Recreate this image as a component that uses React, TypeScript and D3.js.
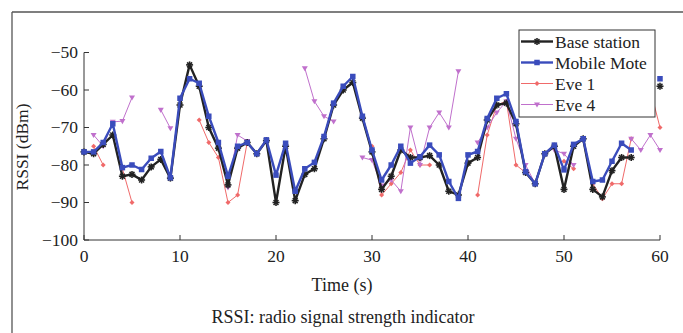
import React from "react";
import * as d3 from "d3";

const times: number[] = d3.range(0, 61);

const baseStation: (number | null)[] = [
  -76.5, -77, -74.5, -72, -83, -82.5, -84, -80.5, -78.5, -83.5,
  -64, -53.3, -59, -70, -75.5, -85.3, -75.5, -74, -77, -73.5,
  -90, -75, -89.5, -82.5, -81, -73, -64, -60, -58, -67.5,
  -76.5, -86.5, -83, -76, -78, -78, -77.5, -80, -87, -88,
  -79.5, -78, -68, -64, -63.5, -69, -82, -85, -77, -75,
  -86.5, -75, -73, -86.5, -88.5, -81.5, -78, -78, null, null,
  -59,
];

const mobileMote: (number | null)[] = [
  -76.5, -76.5, -74, -69, -80.7, -80, -81.2, -78.2, -76.4, -83.4,
  -62.2, -57, -58.2, -67, -74, -83, -75, -74, -77, -73.3,
  -82.7, -74.2, -87, -81, -79.3, -72.4, -63.5, -59, -56.4, -67,
  -76, -84, -80, -75, -79.5, -77.8, -74.7, -77.3, -84.4, -88.9,
  -77.3, -76.4, -67.6, -62.2, -61, -68.4, -81.8, -85, -77, -74.7,
  -81.3, -74.5, -73, -84.4, -84, -79, -74.2, -76, null, null,
  -57,
];

const eve1: (number | null)[] = [
  null, -75, -80, null, -81, -90, null, null, null, null,
  null, null, -68, -74, -78, -90, -88, -74, null, null,
  null, null, null, null, null, null, null, null, null, null,
  -75, -88, -85, -82, -76, -80, -80, null, null, null,
  null, -88, -72, -64, -63, -80, -82, null, null, null,
  -79, -81, null, -85, -89, -85, -85, -73, null, -60,
  -70,
];

const eve4: (number | null)[] = [
  null, -72, -75, -68.5, -68.3, -62, null, null, -65.3, -70.2,
  null, null, null, null, null, -86, -72, -73.6, null, null,
  null, null, null, -54.2, -63, -67, -68.4, null, null, -78,
  -78.7, -85.5, -84, -87, -70, -80, -70, -66, -70, -55,
  null, -74, -70, -66, -63, -73, -80, -85, null, -76,
  -77, -80, null, null, null, null, null, -73, -76, -72,
  -76,
];

const xTicks: number[] = [0, 10, 20, 30, 40, 50, 60];
const yTicks: number[] = [-50, -60, -70, -80, -90, -100];
const seriesNames: string[] = ["Base station", "Mobile Mote", "Eve 1", "Eve 4"];

const W = 683;
const H = 333;
const FONT = "'Liberation Serif', 'DejaVu Serif', serif";

type SeriesDef = {
  name: string;
  values: (number | null)[];
  color: string;
  width: number;
  marker: "star" | "square" | "diamond" | "tri";
  size: number;
};

function Marker({ kind, x, y, color, size }: { kind: string; x: number; y: number; color: string; size: number }) {
  if (kind === "square") {
    return <rect x={x - size / 2} y={y - size / 2} width={size} height={size} fill={color} />;
  }
  if (kind === "diamond") {
    const s = size / 2;
    return <path d={`M${x},${y - s}L${x + s},${y}L${x},${y + s}L${x - s},${y}Z`} fill={color} />;
  }
  if (kind === "tri") {
    const s = size / 2;
    return <path d={`M${x - s},${y - s * 0.7}L${x + s},${y - s * 0.7}L${x},${y + s}Z`} fill={color} />;
  }
  const s = size / 2;
  return (
    <g stroke={color} strokeWidth={1.6}>
      <line x1={x - s} y1={y} x2={x + s} y2={y} />
      <line x1={x} y1={y - s} x2={x} y2={y + s} />
      <line x1={x - s * 0.7} y1={y - s * 0.7} x2={x + s * 0.7} y2={y + s * 0.7} />
      <line x1={x - s * 0.7} y1={y + s * 0.7} x2={x + s * 0.7} y2={y - s * 0.7} />
    </g>
  );
}

export default function App() {
  const left = 84;
  const right = 660;
  const top = 52.5;
  const bottom = 240;

  const x = d3.scaleLinear().domain([0, 60]).range([left, right]);
  const y = d3.scaleLinear().domain([-100, -50]).range([bottom, top]);

  const series: SeriesDef[] = [
    { name: seriesNames[2], values: eve1, color: "#f06a6a", width: 1, marker: "diamond", size: 5 },
    { name: seriesNames[3], values: eve4, color: "#c070cc", width: 1, marker: "tri", size: 6 },
    { name: seriesNames[0], values: baseStation, color: "#222222", width: 2.4, marker: "star", size: 7 },
    { name: seriesNames[1], values: mobileMote, color: "#3a4cbc", width: 2.4, marker: "square", size: 5.5 },
  ];

  const lineGen = (vals: (number | null)[]) =>
    d3
      .line<number>()
      .defined((i) => vals[i] !== null)
      .x((i) => x(times[i]))
      .y((i) => y(vals[i] as number))(d3.range(times.length)) || "";

  const legendOrder = [series[2], series[3], series[0], series[1]];

  return (
    <svg width={W} height={H} style={{ position: "absolute", left: 0, top: 0, background: "#fff" }}>
      <line x1={12} y1={12} x2={W} y2={12} stroke="#555" strokeWidth={1.3} />
      <line x1={12} y1={12} x2={12} y2={H} stroke="#555" strokeWidth={1.3} />

      <line x1={left} y1={top} x2={left} y2={bottom} stroke="#333" strokeWidth={1} />
      <line x1={left} y1={bottom} x2={right} y2={bottom} stroke="#333" strokeWidth={1} />
      {yTicks.map((t) => (
        <g key={"y" + t}>
          <line x1={left} x2={left + 5} y1={y(t)} y2={y(t)} stroke="#333" />
          <text x={left - 6} y={y(t) + 5.5} textAnchor="end" fontFamily={FONT} fontSize={17.5} fill="#222">
            {t < 0 ? "\u2212" + Math.abs(t) : t}
          </text>
        </g>
      ))}
      {xTicks.map((t) => (
        <g key={"x" + t}>
          <line x1={x(t)} x2={x(t)} y1={bottom} y2={bottom - 5} stroke="#333" />
          <text x={x(t)} y={bottom + 22} textAnchor="middle" fontFamily={FONT} fontSize={17.5} fill="#222">
            {t}
          </text>
        </g>
      ))}
      <text x={342} y={291} textAnchor="middle" fontFamily={FONT} fontSize={18} fill="#222">
        Time (s)
      </text>
      <text
        transform={`translate(28,147) rotate(-90)`}
        textAnchor="middle"
        fontFamily={FONT}
        fontSize={17.5}
        fill="#222"
      >
        RSSI (dBm)
      </text>
      <text x={343} y={323} textAnchor="middle" fontFamily={FONT} fontSize={18} fill="#222">
        RSSI: radio signal strength indicator
      </text>

      {series.map((s) => (
        <g key={s.name}>
          <path d={lineGen(s.values)} fill="none" stroke={s.color} strokeWidth={s.width} strokeLinejoin="round" />
          {s.values.map((v, i) =>
            v === null ? null : (
              <Marker key={i} kind={s.marker} x={x(times[i])} y={y(v)} color={s.color} size={s.size} />
            )
          )}
        </g>
      ))}

      <rect x={519} y={30} width={136} height={87} fill="#fff" stroke="#333" strokeWidth={1} />
      {legendOrder.map((s, i) => {
        const ly = 41.5 + i * 21;
        return (
          <g key={"lg" + s.name}>
            <line x1={521} x2={553} y1={ly} y2={ly} stroke={s.color} strokeWidth={s.width} />
            <Marker kind={s.marker} x={537} y={ly} color={s.color} size={s.size} />
            <text x={555} y={ly + 6} fontFamily={FONT} fontSize={17.5} fill="#222">
              {s.name}
            </text>
          </g>
        );
      })}
    </svg>
  );
}
